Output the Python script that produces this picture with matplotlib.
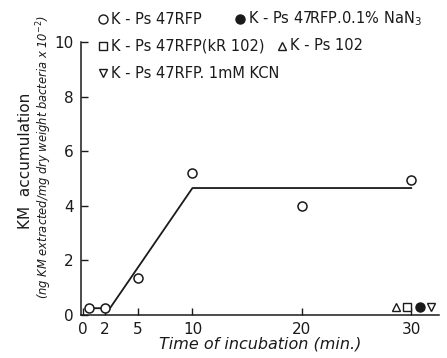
import matplotlib
matplotlib.use("Agg")
import matplotlib.pyplot as plt

# K-Ps 47RFP (open circles)
time_47rfp = [0.5, 2, 5, 10, 20, 30]
km_47rfp = [0.25, 0.25, 1.35, 5.2, 4.0, 4.95]

# fitted line through the open circles
fit_x = [0.5, 2, 2.2, 10, 30]
fit_y = [0.25, 0.25, 0.1, 4.65, 4.65]

# controls at 30 min (drawn side by side)
tri_x, tri_y = [28.6], [0.3]        # K-Ps 102
sq_x, sq_y = [29.6], [0.3]          # K-Ps 47RFP(kR 102)
dot_x, dot_y = [30.8], [0.3]        # K-Ps 47RFP.0.1% NaN3
vtri_x, vtri_y = [31.8], [0.3]      # K-Ps 47RFP.1mM KCN

xticks = [0, 2, 5, 10, 20, 30]
yticks = [0, 2, 4, 6, 8, 10]

ink = "#1a1a1a"
plt.rcParams["font.family"] = ["DejaVu Sans"]

fig = plt.figure(figsize=(4.47, 3.58), dpi=100)
ax = fig.add_axes([0.181, 0.12, 0.80, 0.763])

ax.plot(fit_x, fit_y, color=ink, lw=1.3)
ax.plot(time_47rfp, km_47rfp, "o", ms=6.5, mfc="white", mec=ink, mew=1.1, clip_on=False)
ax.plot(tri_x, tri_y, "^", ms=6, mfc="white", mec=ink, mew=1.0, clip_on=False)
ax.plot(sq_x, sq_y, "s", ms=6, mfc="white", mec=ink, mew=1.0, clip_on=False)
ax.plot(dot_x, dot_y, "o", ms=6.5, mfc=ink, mec=ink, clip_on=False)
ax.plot(vtri_x, vtri_y, "v", ms=6, mfc="white", mec=ink, mew=1.0, clip_on=False)

ax.set_xlim(-0.2, 32.5)
ax.set_ylim(0, 10)
ax.set_xticks(xticks)
ax.set_yticks(yticks)
ax.tick_params(direction="in", length=5, width=1, colors=ink, labelsize=11, pad=5)
for s in ["top", "right"]:
    ax.spines[s].set_visible(False)
for s in ["left", "bottom"]:
    ax.spines[s].set_color(ink)
    ax.spines[s].set_linewidth(1.1)

ax.set_xlabel("Time of incubation (min.)", fontsize=11.5, style="italic", color=ink, labelpad=0)
fig.text(0.058, 0.55, "KM  accumulation", rotation=90, ha="center", va="center",
         fontsize=11, color=ink)
fig.text(0.099, 0.56, "(ng KM extracted/mg dry weight bacteria x 10$^{-2}$)", rotation=90,
         ha="center", va="center", fontsize=8.3, style="italic", color=ink)

# legend block at the top
def leg(xm, y, marker, fill, label):
    fig.lines.append(plt.Line2D([xm / 447], [1 - y / 358], marker=marker, ms=6.5 if marker == "o" else 6,
                                mfc=fill, mec=ink, mew=1.0, transform=fig.transFigure))
    fig.text((xm + 8) / 447, 1 - y / 358, label, ha="left", va="center", fontsize=10.5, color=ink)

leg(103, 19, "o", "white", "K - Ps 47RFP")
leg(240, 19, "o", ink, "K - Ps 47RFP.0.1% NaN$_3$")
leg(103, 46, "s", "white", "K - Ps 47RFP(kR 102)")
leg(282, 46, "^", "white", "K - Ps 102")
leg(103, 73, "v", "white", "K - Ps 47RFP. 1mM KCN")

fig.savefig("out.png", dpi=100)
